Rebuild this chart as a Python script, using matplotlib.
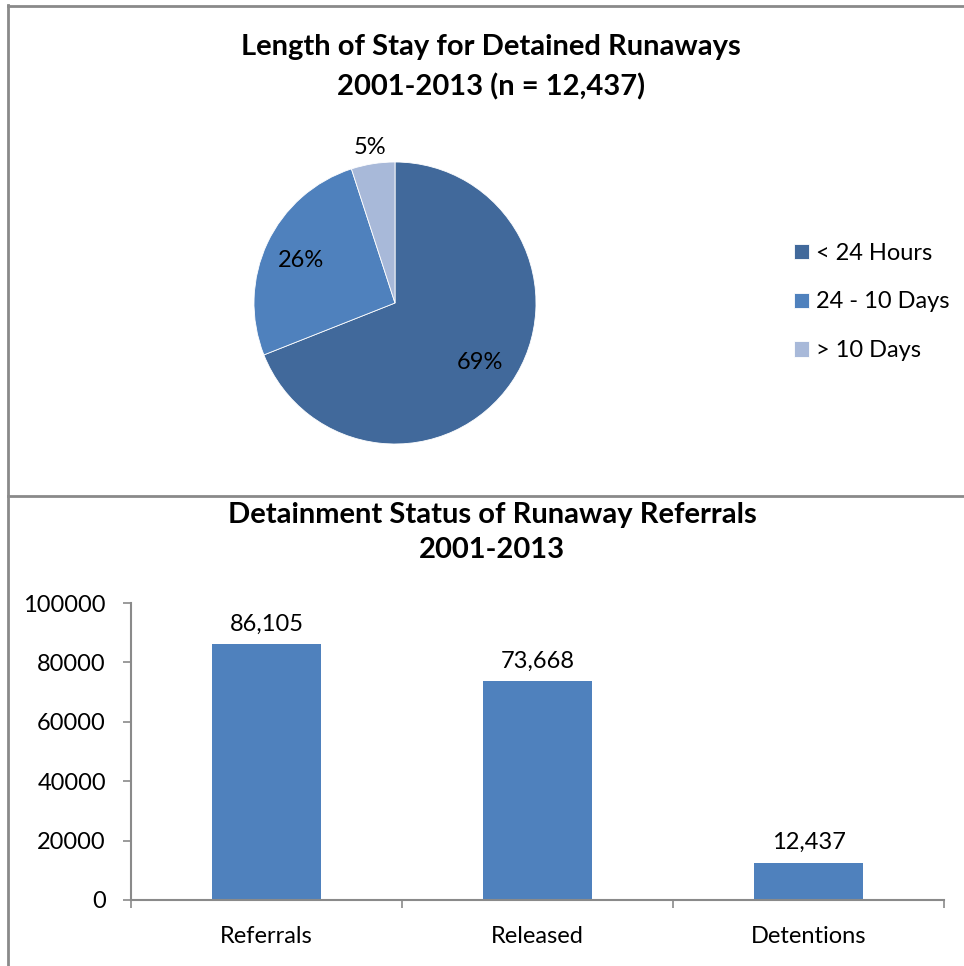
import matplotlib
matplotlib.use("Agg")
import matplotlib.pyplot as plt
from matplotlib.lines import Line2D
import numpy as np

# ---- data ----
pie_labels = ["< 24 Hours", "24 - 10 Days", "> 10 Days"]
pie_values = [69, 26, 5]
pie_colors = ["#41699B", "#4F81BD", "#A8B9D9"]

bar_categories = ["Referrals", "Released", "Detentions"]
bar_values = [86105, 73668, 12437]
y_ticks = [0, 20000, 40000, 60000, 80000, 100000]

title_top = ["Length of Stay for Detained Runaways", "2001-2013 (n = 12,437)"]
title_bottom = ["Detainment Status of Runaway Referrals", "2001-2013"]

# ---- figure ----
plt.rcParams['font.family'] = ['Lato', 'DejaVu Sans']
W, H = 964, 966
fig = plt.figure(figsize=(W / 100, H / 100), dpi=100)


def fx(px):
    return px / W


def fy(py):
    return 1 - py / H


gray = "#8A8A8A"
# panel borders
for xs, ys in [([8, 8], [5, H]), ([8, W], [6, 6]), ([8, W], [496, 496])]:
    fig.add_artist(Line2D([fx(x) for x in xs], [fy(y) for y in ys],
                          transform=fig.transFigure, color=gray, lw=2.0))

# titles
FS_TITLE = 21
fig.text(fx(491), fy(47), title_top[0], ha='center', va='center',
         fontsize=FS_TITLE, fontweight='bold')
fig.text(fx(491), fy(87), title_top[1], ha='center', va='center',
         fontsize=FS_TITLE, fontweight='bold')
fig.text(fx(492), fy(515), title_bottom[0], ha='center', va='center',
         fontsize=FS_TITLE, fontweight='bold')
fig.text(fx(492), fy(550), title_bottom[1], ha='center', va='center',
         fontsize=FS_TITLE, fontweight='bold')

FS = 17

# ---- pie ----
cx, cy, r = 395, 303, 141
L = 1.3
half = r * L
ax_pie = fig.add_axes([fx(cx - half), fy(cy + half), 2 * half / W, 2 * half / H])
wedges, _ = ax_pie.pie(pie_values, colors=pie_colors, startangle=90,
                       counterclock=False, radius=1,
                       wedgeprops=dict(edgecolor='white', linewidth=0.6))
ax_pie.set_xlim(-L, L)
ax_pie.set_ylim(-L, L)
ax_pie.set_aspect('equal')
ax_pie.axis('off')
label_dist = [0.73, 0.74, 1.13]
total = sum(pie_values)
for w, v, d in zip(wedges, pie_values, label_dist):
    ang = np.deg2rad((w.theta1 + w.theta2) / 2)
    ax_pie.text(d * np.cos(ang), d * np.sin(ang), f"{round(100 * v / total)}%",
                ha='center', va='center_baseline', fontsize=FS, color='black')

fig.legend(wedges, pie_labels, loc='center left',
           bbox_to_anchor=(fx(794), fy(302)), frameon=False,
           fontsize=FS, handlelength=0.62, handleheight=0.62,
           handletextpad=0.3, labelspacing=1.18, borderpad=0,
           borderaxespad=0)

# ---- bars ----
ax = fig.add_axes([fx(131), fy(900), 813 / W, 297 / H])
x = np.arange(len(bar_categories))
bars = ax.bar(x, bar_values, width=0.4, color="#4F81BD")
ax.set_xlim(-0.5, len(bar_categories) - 0.5)
ax.set_ylim(0, 100000)
ax.set_yticks(y_ticks)
ax.set_yticklabels([str(t) for t in y_ticks])
ax.set_xticks(x)
ax.set_xticklabels(bar_categories)
ax.set_xticks(np.arange(-0.5, len(bar_categories)), minor=True)
for s in ['top', 'right']:
    ax.spines[s].set_visible(False)
for s in ['left', 'bottom']:
    ax.spines[s].set_color(gray)
    ax.spines[s].set_linewidth(1.5)
ax.tick_params(axis='y', length=6, width=1.2, color=gray, pad=12,
               labelsize=FS)
ax.tick_params(axis='x', which='major', length=0, pad=19, labelsize=FS)
ax.tick_params(axis='x', which='minor', length=6, width=1.2, color=gray,
               direction='out')
ax.bar_label(bars, labels=[f"{v:,}" for v in bar_values], padding=7,
             fontsize=FS)

fig.savefig("out.png", dpi=100)
